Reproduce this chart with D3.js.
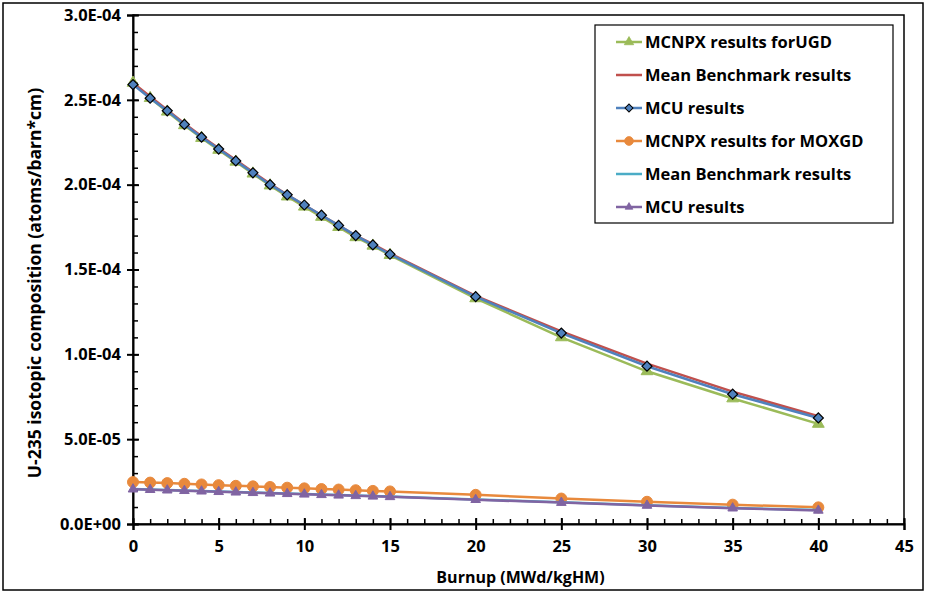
<!DOCTYPE html>
<html>
<head>
<meta charset="utf-8">
<script src="https://cdn.jsdelivr.net/npm/d3@7"></script>
<style>
  body { margin: 0; background: #fff; }
  text { font-family: "Open Sans", Lato, sans-serif; font-weight: bold; fill: #000; }
</style>
</head>
<body>
<div class="chart"></div>
<script>
// burnup steps (MWd/kgHM)
var burnup = [0, 1, 2, 3, 4, 5, 6, 7, 8, 9, 10, 11, 12, 13, 14, 15, 20, 25, 30, 35, 40];

// UGD fuel
var mcnpxUGD = [2.60e-4, 2.51e-4, 2.43e-4, 2.35e-4, 2.275e-4, 2.205e-4, 2.135e-4, 2.065e-4, 1.995e-4, 1.93e-4, 1.87e-4, 1.81e-4, 1.75e-4, 1.69e-4, 1.64e-4, 1.585e-4, 1.33e-4, 1.10e-4, 0.90e-4, 0.74e-4, 0.59e-4];
var meanUGD  = [2.60e-4, 2.52e-4, 2.44e-4, 2.36e-4, 2.285e-4, 2.215e-4, 2.145e-4, 2.075e-4, 2.005e-4, 1.94e-4, 1.88e-4, 1.82e-4, 1.76e-4, 1.70e-4, 1.65e-4, 1.595e-4, 1.345e-4, 1.135e-4, 0.945e-4, 0.78e-4, 0.635e-4];
var mcuUGD   = [2.59e-4, 2.51e-4, 2.435e-4, 2.355e-4, 2.28e-4, 2.21e-4, 2.14e-4, 2.07e-4, 2.00e-4, 1.94e-4, 1.88e-4, 1.82e-4, 1.76e-4, 1.70e-4, 1.645e-4, 1.59e-4, 1.34e-4, 1.125e-4, 0.93e-4, 0.765e-4, 0.625e-4];

// MOXGD fuel
var mcnpxMOX = [2.47e-5, 2.44e-5, 2.41e-5, 2.37e-5, 2.33e-5, 2.29e-5, 2.25e-5, 2.22e-5, 2.18e-5, 2.14e-5, 2.10e-5, 2.06e-5, 2.03e-5, 1.99e-5, 1.95e-5, 1.92e-5, 1.72e-5, 1.50e-5, 1.31e-5, 1.14e-5, 0.98e-5];
var meanMOX  = [2.07e-5, 2.04e-5, 2.01e-5, 1.98e-5, 1.95e-5, 1.92e-5, 1.89e-5, 1.86e-5, 1.83e-5, 1.80e-5, 1.77e-5, 1.74e-5, 1.71e-5, 1.68e-5, 1.65e-5, 1.62e-5, 1.45e-5, 1.28e-5, 1.11e-5, 0.95e-5, 0.82e-5];
var mcuMOX   = [2.05e-5, 2.02e-5, 1.99e-5, 1.96e-5, 1.93e-5, 1.90e-5, 1.87e-5, 1.84e-5, 1.81e-5, 1.78e-5, 1.75e-5, 1.72e-5, 1.69e-5, 1.66e-5, 1.63e-5, 1.60e-5, 1.43e-5, 1.26e-5, 1.09e-5, 0.93e-5, 0.80e-5];

var seriesNames = ["MCNPX results forUGD", "Mean Benchmark results", "MCU results",
                   "MCNPX results for MOXGD", "Mean Benchmark results", "MCU results"];

var xTicks = [0, 5, 10, 15, 20, 25, 30, 35, 40, 45];
var yTicks = [0, 5e-5, 1e-4, 1.5e-4, 2e-4, 2.5e-4, 3e-4];

var series = [
  {name: seriesNames[0], values: mcnpxUGD, color: "#9bbb59", marker: "triangle", size: 60},
  {name: seriesNames[1], values: meanUGD,  color: "#c0504d", marker: "dash",     size: 0},
  {name: seriesNames[2], values: mcuUGD,   color: "#4f81bd", marker: "diamond",  size: 50},
  {name: seriesNames[3], values: mcnpxMOX, color: "#e8893c", marker: "circle",   size: 95},
  {name: seriesNames[4], values: meanMOX,  color: "#4bacc6", marker: "dash",     size: 0},
  {name: seriesNames[5], values: mcuMOX,   color: "#8064a2", marker: "triangle", size: 40}
];

var W = 926, H = 594;
var margin = {top: 15, right: 22, bottom: 70, left: 133},
    width = W - margin.left - margin.right,
    height = H - margin.top - margin.bottom;

var svg = d3.select(".chart").append("svg")
    .attr("width", W)
    .attr("height", H);

// outer frame
svg.append("rect")
    .attr("x", 3).attr("y", 3)
    .attr("width", W - 6).attr("height", H - 7)
    .attr("fill", "none").attr("stroke", "#000").attr("stroke-width", 1.5);

var g = svg.append("g")
    .attr("transform", "translate(" + margin.left + "," + margin.top + ")");

var x = d3.scaleLinear().domain([0, 45]).range([0, width]);
var y = d3.scaleLinear().domain([0, 3e-4]).range([height, 0]);

function sci(v) {
  if (v === 0) return "0.0E+00";
  var s = d3.format(".1e")(v).split("e");
  var e = +s[1];
  return s[0] + "E" + (e < 0 ? "-" : "+") + (Math.abs(e) < 10 ? "0" : "") + Math.abs(e);
}

// plot box
g.append("rect")
    .attr("width", width).attr("height", height)
    .attr("fill", "none").attr("stroke", "#000").attr("stroke-width", 1.5);

// minor ticks (inside)
g.append("g")
    .call(d3.axisLeft(y).tickValues(d3.range(0, 31).map(function(i) { return i * 1e-5; }))
      .tickSize(-5).tickFormat(""))
    .call(function(a) { a.select(".domain").remove(); })
    .selectAll("line").attr("stroke-width", 1.5);
g.append("g")
    .attr("transform", "translate(0," + height + ")")
    .call(d3.axisBottom(x).tickValues(d3.range(0, 46)).tickSize(-5).tickFormat(""))
    .call(function(a) { a.select(".domain").remove(); })
    .selectAll("line").attr("stroke-width", 1.5);

// major ticks
var yAxis = g.append("g")
    .call(d3.axisLeft(y).tickValues(yTicks).tickSize(6).tickPadding(6).tickFormat(sci));
yAxis.select(".domain").attr("stroke-width", 2);
yAxis.selectAll("line").attr("stroke-width", 2).attr("x2", -6).attr("x1", 6);
yAxis.selectAll("text").style("font-size", "16.5px");

var xAxis = g.append("g")
    .attr("transform", "translate(0," + height + ")")
    .call(d3.axisBottom(x).tickValues(xTicks).tickSize(6).tickPadding(10));
xAxis.select(".domain").attr("stroke-width", 2);
xAxis.selectAll("line").attr("stroke-width", 2).attr("y1", -6);
xAxis.selectAll("text").style("font-size", "16.5px");

// axis titles
g.append("text")
    .attr("text-anchor", "middle")
    .attr("x", width / 2 + 2)
    .attr("y", height + 59)
    .style("font-size", "16px")
    .text("Burnup (MWd/kgHM)");

g.append("text")
    .attr("text-anchor", "middle")
    .attr("transform", "rotate(-90)")
    .attr("x", -268)
    .attr("y", -92)
    .style("font-size", "17.5px")
    .text("U-235 isotopic composition (atoms/barn*cm)");

var symbols = {triangle: d3.symbolTriangle, diamond: d3.symbolSquare, circle: d3.symbolCircle};

function drawMarker(sel, s) {
  if (s.marker === "dash") {
    sel.append("line")
      .attr("x1", -2).attr("x2", 2)
      .attr("stroke", s.color).attr("stroke-width", 2);
    return;
  }
  sel.append("path")
    .attr("d", d3.symbol().type(symbols[s.marker]).size(s.size))
    .attr("fill", s.color)
    .attr("stroke", s.marker === "diamond" ? "#000" : s.color)
    .attr("stroke-width", s.marker === "diamond" ? 1.2 : 1)
    .attr("transform", s.marker === "diamond" ? "rotate(45)" : null);
}

var line = d3.line()
    .x(function(d) { return x(d[0]); })
    .y(function(d) { return y(d[1]); });

series.forEach(function(s) {
  var pts = burnup.map(function(b, i) { return [b, s.values[i]]; });
  g.append("path")
    .datum(pts)
    .attr("fill", "none")
    .attr("stroke", s.color)
    .attr("stroke-width", 2.5)
    .attr("d", line);
  g.selectAll(null)
    .data(pts)
    .enter()
    .append("g")
    .attr("transform", function(d) { return "translate(" + x(d[0]) + "," + y(d[1]) + ")"; })
    .each(function() { drawMarker(d3.select(this), s); });
});

// legend
var legend = svg.append("g").attr("transform", "translate(595,25)");
legend.append("rect")
    .attr("width", 298).attr("height", 198)
    .attr("fill", "#fff").attr("stroke", "#000").attr("stroke-width", 1.2);

series.forEach(function(s, i) {
  var row = legend.append("g").attr("transform", "translate(0," + (17 + i * 33) + ")");
  row.append("line")
    .attr("x1", 21).attr("x2", 47)
    .attr("stroke", s.color).attr("stroke-width", 2.5);
  var m = row.append("g").attr("transform", "translate(34,0) scale(0.8)");
  drawMarker(m, s);
  row.append("text")
    .attr("x", 50).attr("dy", "0.35em")
    .style("font-size", "16.5px")
    .text(s.name);
});
</script>
</body>
</html>
